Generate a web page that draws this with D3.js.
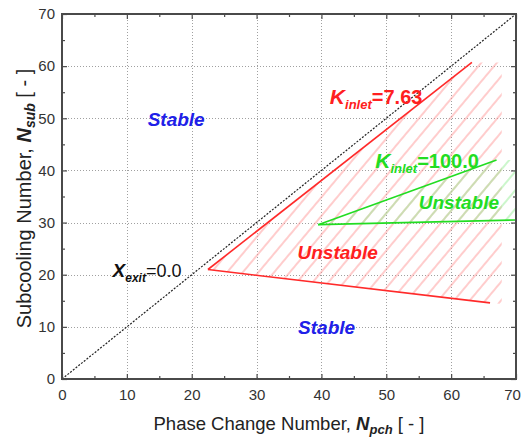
<!DOCTYPE html>
<html lang="en">
<head>
    <meta charset="UTF-8">
    <title>Stability map</title>
    <style>
        body { margin: 0; background: #fff; }
        text { font-family: "Liberation Sans", Arial, sans-serif; }
    </style>
</head>
<script src="https://cdn.jsdelivr.net/npm/d3@7"></script>
<body>
    <svg width="523" height="437"></svg>
</body>

<script>
    // values
    var majorTicks = [0, 10, 20, 30, 40, 50, 60, 70]
    var minorTicks = [5, 15, 25, 35, 45, 55, 65]
    var gridTicks = [10, 20, 30, 40, 50, 60]
    var exitLine = [[0, 0], [70, 70]]
    var redUpper = [[22.5, 21], [63.2, 60.7]]
    var redLower = [[22.5, 21], [66, 14.6]]
    var redZone = [[22.5, 21], [63.2, 60.7], [67.8, 60.7], [67.8, 14.4], [66, 14.6]]
    var greenUpper = [[39.5, 29.6], [67, 42]]
    var greenLower = [[39.5, 29.6], [70, 30.5]]
    var greenZone = [[39.5, 29.6], [67, 42], [70, 42], [70, 30.5]]

    var svg = d3.select("svg")
    var pLeft = 62, pRight = 516, pTop = 14, pBottom = 379

    var x = d3.scaleLinear().domain([0, 70]).range([pLeft, pRight])
    var y = d3.scaleLinear().domain([0, 70]).range([pBottom, pTop])
    var line = d3.line().x(d => x(d[0])).y(d => y(d[1]))
    var crisp = v => Math.round(v) + 0.5

    var defs = svg.append("defs")
    function hatch(id, color) {
        var p = defs.append("pattern")
            .attr("id", id)
            .attr("patternUnits", "userSpaceOnUse")
            .attr("width", 12).attr("height", 12)
            .attr("patternTransform", "rotate(40)")
        p.append("line")
            .attr("x1", 1).attr("y1", 0).attr("x2", 1).attr("y2", 12)
            .attr("stroke", color).attr("stroke-width", 1)
    }
    hatch("hRed", "#ff9a9a")
    hatch("hGreen", "#99ee99")

    defs.append("clipPath").attr("id", "plot")
        .append("rect")
        .attr("x", pLeft).attr("y", pTop)
        .attr("width", pRight - pLeft).attr("height", pBottom - pTop)

    // grid
    var g = svg.append("g")
    g.selectAll("line.gx").data(gridTicks).join("line").attr("class", "gx")
        .attr("x1", d => crisp(x(d))).attr("x2", d => crisp(x(d)))
        .attr("y1", pTop).attr("y2", pBottom)
    g.selectAll("line.gy").data(gridTicks).join("line").attr("class", "gy")
        .attr("y1", d => crisp(y(d))).attr("y2", d => crisp(y(d)))
        .attr("x1", pLeft).attr("x2", pRight)
    g.selectAll("line")
        .attr("stroke", "#a0a0a0").attr("stroke-width", 1).attr("stroke-dasharray", "1,2")

    var plot = svg.append("g").attr("clip-path", "url(#plot)")
    plot.append("path").attr("d", line(redZone) + "Z")
        .attr("fill", "url(#hRed)")
    plot.append("path").attr("d", line(greenZone) + "Z")
        .attr("fill", "url(#hGreen)")

    plot.append("path").attr("d", line(exitLine))
        .attr("fill", "none").attr("stroke", "#222")
        .attr("stroke-width", 1.2).attr("stroke-dasharray", "2,1.5")

    ;[redUpper, redLower].forEach(function(d) {
        plot.append("path").attr("d", line(d))
            .attr("fill", "none").attr("stroke", "#ff2a2a").attr("stroke-width", 1.6)
    })
    ;[greenUpper, greenLower].forEach(function(d) {
        plot.append("path").attr("d", line(d))
            .attr("fill", "none").attr("stroke", "#22dd22").attr("stroke-width", 1.6)
    })

    // frame and ticks (inward, all four sides)
    var axisColor = "#4a4a4a"
    function styleAxis(sel) {
        sel.select(".domain").remove()
        sel.selectAll(".tick line").attr("stroke", axisColor).attr("stroke-width", 1.2)
        sel.selectAll(".tick text").attr("fill", "#333").style("font-size", "15px")
            .style("font-family", "Liberation Sans, Arial, sans-serif")
    }
    svg.append("g").attr("transform", "translate(0," + pBottom + ")")
        .call(d3.axisBottom(x).tickValues(majorTicks).tickSize(-5).tickPadding(10).tickFormat(d3.format("d")))
        .call(styleAxis)
        .selectAll(".tick text")
        .attr("dx", d => d === 70 ? -4 : 0)
    svg.append("g").attr("transform", "translate(" + pLeft + ",0)")
        .call(d3.axisLeft(y).tickValues(majorTicks).tickSize(-5).tickPadding(7).tickFormat(d3.format("d")))
        .call(styleAxis)
    svg.append("g").attr("transform", "translate(0," + pTop + ")")
        .call(d3.axisTop(x).tickValues(majorTicks).tickSize(-5).tickFormat(""))
        .call(styleAxis)
    svg.append("g").attr("transform", "translate(" + pRight + ",0)")
        .call(d3.axisRight(y).tickValues(majorTicks).tickSize(-5).tickFormat(""))
        .call(styleAxis)
    svg.append("g").attr("transform", "translate(0," + pBottom + ")")
        .call(d3.axisBottom(x).tickValues(minorTicks).tickSize(-3).tickFormat("")).call(styleAxis)
    svg.append("g").attr("transform", "translate(" + pLeft + ",0)")
        .call(d3.axisLeft(y).tickValues(minorTicks).tickSize(-3).tickFormat("")).call(styleAxis)
    svg.append("g").attr("transform", "translate(0," + pTop + ")")
        .call(d3.axisTop(x).tickValues(minorTicks).tickSize(-3).tickFormat("")).call(styleAxis)
    svg.append("g").attr("transform", "translate(" + pRight + ",0)")
        .call(d3.axisRight(y).tickValues(minorTicks).tickSize(-3).tickFormat("")).call(styleAxis)

    svg.append("rect")
        .attr("x", pLeft).attr("y", pTop)
        .attr("width", pRight - pLeft).attr("height", pBottom - pTop)
        .attr("fill", "none").attr("stroke", axisColor).attr("stroke-width", 2)

    // axis titles
    var xt = svg.append("text")
        .attr("x", (pLeft + pRight) / 2).attr("y", 430)
        .attr("text-anchor", "middle").attr("fill", "#222")
        .style("font-size", "18.5px")
    xt.append("tspan").text("Phase Change Number, ")
    xt.append("tspan").text("N").style("font-weight", "bold").style("font-style", "italic")
    xt.append("tspan").text("pch").attr("dy", 4).style("font-size", "13px")
        .style("font-weight", "bold").style("font-style", "italic")
    xt.append("tspan").text(" [ - ]").attr("dy", -4)

    var yt = svg.append("text")
        .attr("transform", "translate(31," + ((pTop + pBottom) / 2 + 2) + ") rotate(-90)")
        .attr("text-anchor", "middle").attr("fill", "#222")
        .style("font-size", "20px")
    yt.append("tspan").text("Subcooling Number, ")
    yt.append("tspan").text("N").style("font-weight", "bold").style("font-style", "italic")
    yt.append("tspan").text("sub").attr("dy", 4).style("font-size", "14px")
        .style("font-weight", "bold").style("font-style", "italic")
    yt.append("tspan").text(" [ - ]").attr("dy", -4)

    // region labels
    var labels = [
        { t: "Stable", x: 17.6, y: 48.5, c: "#2020e8" },
        { t: "Stable", x: 40.8, y: 8.6, c: "#2020e8" },
        { t: "Unstable", x: 42.5, y: 23.0, c: "#ff2020" },
        { t: "Unstable", x: 61.2, y: 32.6, c: "#22dd22" }
    ]
    svg.selectAll("text.lab").data(labels).join("text").attr("class", "lab")
        .attr("x", d => x(d.x)).attr("y", d => y(d.y))
        .attr("text-anchor", "middle").attr("fill", d => d.c)
        .style("font-size", "19px").style("font-weight", "bold").style("font-style", "italic")
        .text(d => d.t)

    function subLabel(px, py, main, sub, rest, color, size, restBold) {
        var t = svg.append("text").attr("x", x(px)).attr("y", y(py)).attr("fill", color)
            .style("font-size", size + "px").style("font-weight", "bold")
        t.append("tspan").text(main).style("font-style", "italic").style("font-size", (size + 1) + "px")
        t.append("tspan").text(sub).attr("dy", 5).style("font-style", "italic")
            .style("font-size", Math.round(size * 0.65) + "px")
        t.append("tspan").text(rest).attr("dy", -5).style("font-weight", restBold ? "bold" : "normal")
    }
    subLabel(41.3, 52.7, "K", "inlet", "=7.63", "#ff2020", 20, true)
    subLabel(48.3, 40.5, "K", "inlet", "=100.0", "#22dd22", 20, true)
    subLabel(7.8, 19.5, "X", "exit", "=0.0", "#111", 18, false)
</script>
</html>
